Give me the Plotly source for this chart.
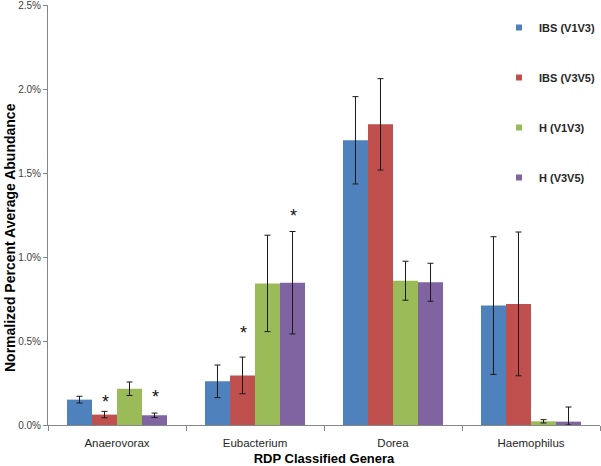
import plotly.graph_objects as go

categories = ["Anaerovorax", "Eubacterium", "Dorea", "Haemophilus"]
series_names = ["IBS (V1V3)", "IBS (V3V5)", "H (V1V3)", "H (V3V5)"]
colors = ["#4F81BD", "#C0504D", "#9BBB59", "#8064A2"]

ibs_v1v3 = [0.151, 0.260, 1.695, 0.711]
ibs_v3v5 = [0.062, 0.295, 1.790, 0.721]
h_v1v3 = [0.216, 0.843, 0.859, 0.022]
h_v3v5 = [0.058, 0.847, 0.850, 0.020]

ibs_v1v3_err = [0.020, 0.097, 0.260, 0.410]
ibs_v3v5_err = [0.019, 0.109, 0.272, 0.428]
h_v1v3_err = [0.040, 0.287, 0.116, 0.010]
h_v3v5_err = [0.013, 0.305, 0.113, 0.087]

# significance markers: (category, series index, y position)
star_cats = ["Anaerovorax", "Anaerovorax", "Eubacterium", "Eubacterium"]
star_series = [1, 3, 1, 3]
star_y = [0.153, 0.186, 0.568, 1.261]

y_ticks = [0.0, 0.5, 1.0, 1.5, 2.0, 2.5]
y_tick_text = ["0.0%", "0.5%", "1.0%", "1.5%", "2.0%", "2.5%"]

values = [ibs_v1v3, ibs_v3v5, h_v1v3, h_v3v5]
errors = [ibs_v1v3_err, ibs_v3v5_err, h_v1v3_err, h_v3v5_err]

fig = go.Figure()
for name, col, v, e in zip(series_names, colors, values, errors):
    fig.add_trace(go.Bar(
        x=categories, y=v, name=name, marker_color=col, marker_line_width=0,
        showlegend=False,
        error_y=dict(type="data", array=e, arrayminus=[min(a, b) for a, b in zip(e, v)],
                     color="#1a1a1a", thickness=1, width=3),
    ))
for name, col in zip(series_names, colors):
    fig.add_trace(go.Scatter(
        x=[None], y=[None], mode="markers", name="<b>" + name + "</b>",
        marker=dict(symbol="square", size=6, color=col), legendgroup=name,
    ))

W, H = 601, 466
ml, mr, mt, mb = 48, 1, 5, 41
plot_w = W - ml - mr
plot_h = H - mt - mb
cat_w = plot_w / len(categories)
bar_w = cat_w * (1 - 0.275) / 4

for c, s, y in zip(star_cats, star_series, star_y):
    fig.add_annotation(
        x=c, y=y, xref="x", yref="y", text="*", showarrow=False,
        xshift=(s - 1.5) * bar_w + 1, yshift=-3,
        font=dict(size=18, color="#111111", family="Liberation Sans, Arial"),
    )

# y-axis title (placed like the original, slightly below the axis centre)
fig.add_annotation(
    x=0, y=(H - 238 - mb) / plot_h, xref="paper", yref="paper",
    xshift=-(ml - 10), xanchor="center", yanchor="middle",
    text="<b>Normalized Percent Average Abundance</b>", textangle=-90, showarrow=False,
    font=dict(size=14, color="#000000", family="Liberation Sans, Arial"),
)

fig.update_layout(
    width=W, height=H,
    margin=dict(l=ml, r=mr, t=mt, b=mb, autoexpand=False),
    plot_bgcolor="white", paper_bgcolor="white",
    barmode="group", bargap=0.275, bargroupgap=0,
    font=dict(family="Liberation Sans, Arial", color="#404040"),
    showlegend=True,
    legend=dict(
        x=(499 - ml) / plot_w, y=(H - 13 - mb) / plot_h, xanchor="left", yanchor="top",
        font=dict(size=11, color="#262626", family="Liberation Sans, Arial"),
        tracegroupgap=31, bgcolor="rgba(0,0,0,0)",
    ),
    xaxis=dict(
        showline=True, linecolor="#868686", linewidth=1,
        ticks="outside", tickson="boundaries", ticklen=5, tickcolor="#868686",
        tickfont=dict(size=11.5, color="#262626"), ticklabelstandoff=7,
        title=dict(text="<b>RDP Classified Genera</b>", font=dict(size=13, color="#000000"), standoff=8),
        showgrid=False, automargin=False,
    ),
    yaxis=dict(
        range=[0, 2.5005], tickmode="array", tickvals=y_ticks, ticktext=y_tick_text,
        showline=True, linecolor="#868686", linewidth=1,
        ticks="outside", ticklen=4, tickcolor="#868686", ticklabeloverflow="allow",
        tickfont=dict(size=10, color="#404040"),
        showgrid=False, zeroline=False, automargin=False,
    ),
)

fig.write_html("out.html", config={"displayModeBar": False},
               post_script="document.body.style.margin='0px';")
